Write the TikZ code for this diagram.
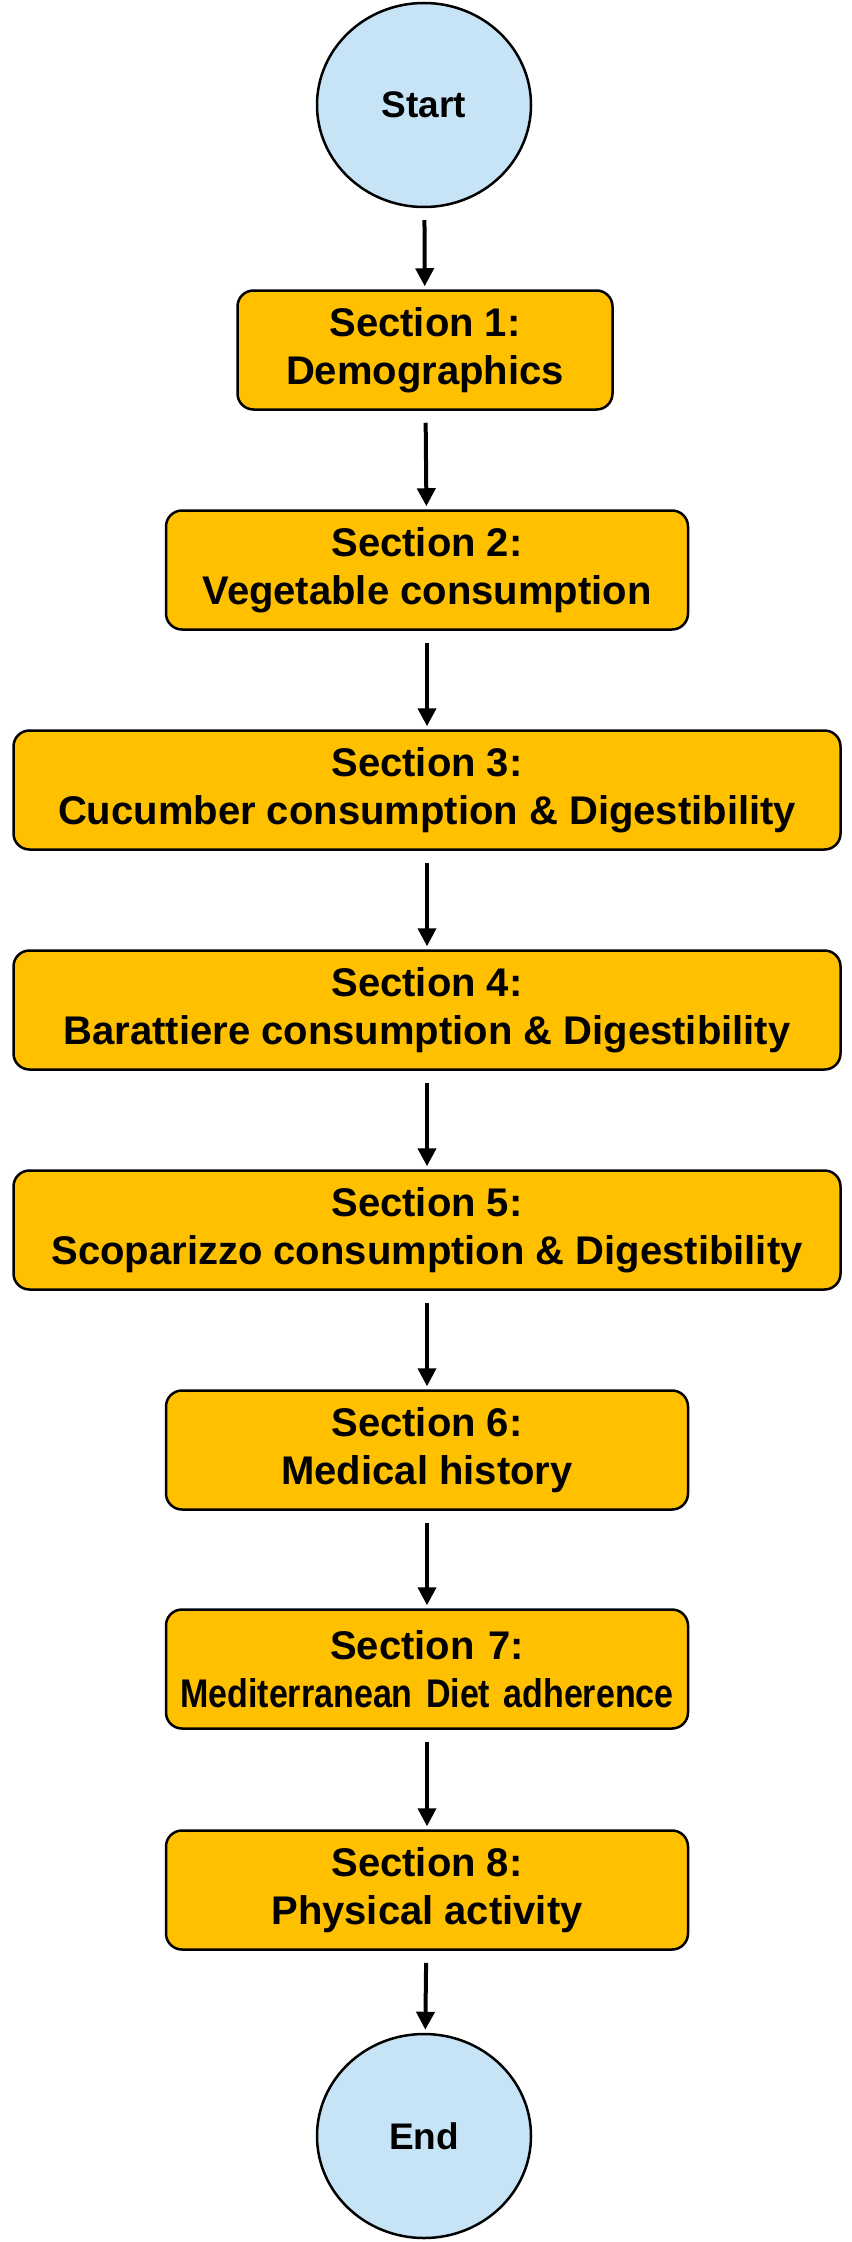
\documentclass[tikz,border=0pt]{standalone}
\usepackage{fontspec}
\setmainfont{Liberation Sans}
\newfontfamily\narrowfam[FakeStretch=0.85]{Liberation Sans}
\usetikzlibrary{shapes.geometric,arrows.meta}
\definecolor{boxfill}{HTML}{FFC000}
\definecolor{circfill}{HTML}{C6E4F5}
\begin{document}
\begin{tikzpicture}[x=1pt,y=-1pt,
  term/.style={ellipse,draw=black,line width=2.5pt,fill=circfill,minimum width=214pt,minimum height=204pt,inner sep=0pt,font=\fontsize{37}{44}\selectfont\bfseries},
  sect/.style={rectangle,rounded corners=16pt,draw=black,line width=2.5pt,fill=boxfill,minimum height=119pt,inner sep=0pt,align=center,font=\fontsize{40}{48}\selectfont\bfseries},
  arr/.style={-{Triangle[length=18pt,width=18pt]},line width=4pt}]
\useasboundingbox (0,0) rectangle (851,2242);
\node[term] (start) at (424,105) {Start};
\node[sect,minimum width=375pt] (s1) at (425,350) {Section 1:\\Demographics};
\node[sect,minimum width=522pt] (s2) at (427,570) {Section 2:\\Vegetable consumption};
\node[sect,minimum width=827pt] (s3) at (427,790) {Section 3:\\Cucumber consumption \& Digestibility};
\node[sect,minimum width=827pt] (s4) at (427,1010) {Section 4:\\Barattiere consumption \& Digestibility};
\node[sect,minimum width=827pt] (s5) at (427,1230) {Section 5:\\Scoparizzo consumption \& Digestibility};
\node[sect,minimum width=522pt] (s6) at (427,1450) {Section 6:\\Medical history};
\node[sect,minimum width=522pt,text width=522pt] (s7) at (427,1669) {Section 7:\\{\narrowfam\bfseries Mediterranean Diet adherence}};
\node[sect,minimum width=522pt] (s8) at (427,1890) {Section 8:\\Physical activity};
\node[term] (end) at (424,2136) {End};
\foreach \a/\b in {start/s1,s1/s2,s2/s3,s3/s4,s4/s5,s5/s6,s6/s7,s7/s8,s8/end}
  \draw[arr,shorten <=12pt,shorten >=3pt] (\a) -- (\b);
\end{tikzpicture}
\end{document}
